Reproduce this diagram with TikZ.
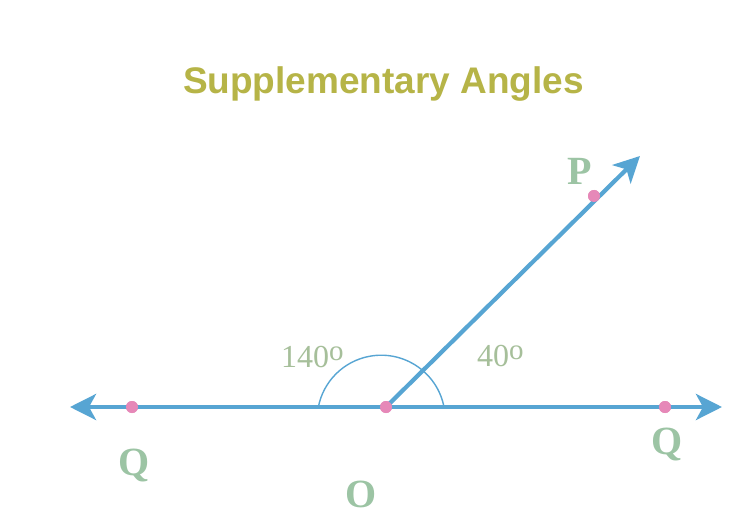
\documentclass[tikz,border=0pt]{standalone}
\usepackage{fontspec}
\setmainfont{Liberation Serif}
\newfontfamily\titlefont{Liberation Sans}
\usetikzlibrary{arrows.meta}
\definecolor{lineblue}{HTML}{57A5D3}
\definecolor{dotpink}{HTML}{E688B8}
\definecolor{titleolive}{HTML}{B6B447}
\definecolor{labgreen}{HTML}{9CC4A4}
\definecolor{anggreen}{HTML}{A6BF9A}
\begin{document}
\begin{tikzpicture}[x=1pt,y=-1pt,
  ray/.style={draw=lineblue,line width=4.2pt,-{Stealth[length=26pt,width=26pt,inset=7pt]}},
  anglearc/.style={draw=lineblue,line width=1.4pt},
  dot/.style={circle,fill=dotpink,minimum size=12pt,inner sep=0pt},
  ptlabel/.style={text=labgreen,font=\fontsize{40}{40}\selectfont\bfseries,anchor=base,inner sep=0pt},
  anglabel/.style={text=anggreen,font=\fontsize{32}{32}\selectfont,anchor=base west,inner sep=0pt},
  titletext/.style={text=titleolive,font=\titlefont\fontsize{37}{37}\selectfont\bfseries,anchor=base,inner sep=0pt}]
\useasboundingbox (0,0) rectangle (756,532);
\fill[white] (0,0) rectangle (756,532);

\node[titletext] (title) at (383.5,94) {Supplementary Angles};

\coordinate (LT) at (70,407);
\coordinate (RT) at (722,407);
\coordinate (PT) at (640,156);
\coordinate (A1) at (444,407);

\draw[anglearc] (A1) arc[start angle=-11,end angle=-169,radius=64];

\node[dot] (O) at (386,407) {};
\node[dot] (QL) at (132,407) {};
\node[dot] (QR) at (665,407) {};
\node[dot] (P) at (594,196) {};

\draw[ray] (O.center) -- (LT);
\draw[ray] (O.center) -- (RT);
\draw[ray] (O.center) -- (PT);

\node[dot] at (O) {};
\node[dot] at (QL) {};
\node[dot] at (QR) {};
\node[dot] at (P) {};

\node[ptlabel] (lP) at (580,185) {P};
\node[ptlabel] (lQL) at (134,475) {Q};
\node[ptlabel] (lQR) at (667,454) {Q};
\node[ptlabel] (lO) at (361,507) {O};

\node[anglabel] (a140) at (281,367) {140\raisebox{7pt}{\fontsize{29}{29}\selectfont o}};
\node[anglabel] (a40) at (477,366) {40\raisebox{7pt}{\fontsize{29}{29}\selectfont o}};
\end{tikzpicture}
\end{document}
